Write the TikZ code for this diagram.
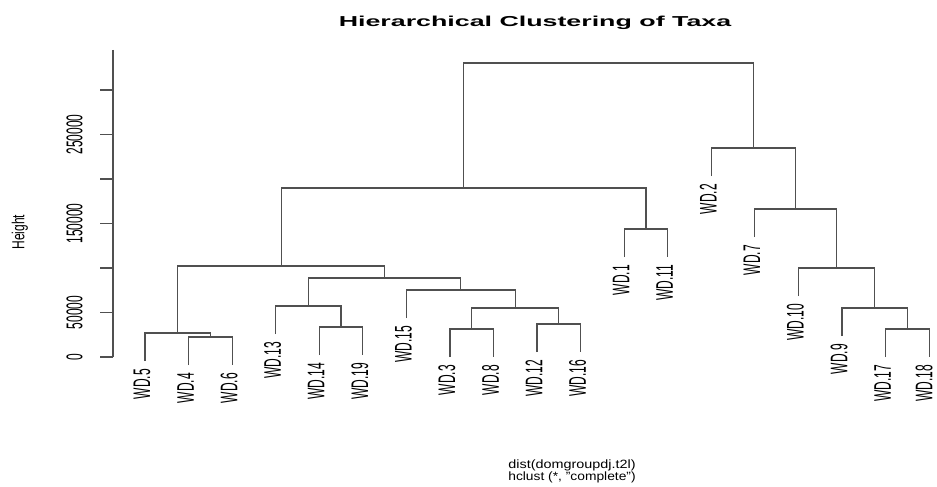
\documentclass[tikz,border=0pt]{standalone}
\usepackage{fontspec}
\setmainfont{Liberation Sans}
\usetikzlibrary{positioning}
\definecolor{dgray}{RGB}{80,80,80}
\newcommand{\leafl}[1]{\scalebox{2.0}[1]{\rotatebox{90}{#1}}}
\newcommand{\axl}[1]{\scalebox{1.9}[1]{\rotatebox{90}{#1}}}
\begin{document}
\begin{tikzpicture}[x=1pt,y=-1pt,
  den/.style={draw=dgray, line width=1.2pt},
  leaflab/.style={anchor=north, inner sep=0pt, font=\fontsize{12}{14}\selectfont, text=black},
  axlab/.style={anchor=center, inner sep=0pt, font=\fontsize{12}{14}\selectfont, text=black},
  txt/.style={inner sep=0pt, text=black}]
\useasboundingbox[fill=white] (0,0) rectangle (937,487);

% title and captions
\node[txt, anchor=base, font=\bfseries\fontsize{14.4}{16}\selectfont] (title) at (535,27) {\scalebox{1.86}[1]{Hierarchical Clustering of Taxa}};
\node[txt, anchor=base, font=\fontsize{12}{14}\selectfont] (cap1) at (572,468) {\scalebox{1.2}[1]{dist(domgroupdj.t2l)}};
\node[txt, anchor=base, font=\fontsize{12}{14}\selectfont] (cap2) at (572,480) {\scalebox{1.15}[1]{hclust (*, "complete")}};
\node[txt, anchor=center, font=\fontsize{12}{14}\selectfont] (ylab) at (20,232) {\scalebox{1.45}[1]{\rotatebox{90}{Height}}};

% axis
\coordinate (axtop) at (113,50);
\coordinate (a0) at (113,357);   \coordinate (b0) at (100,357);
\coordinate (a1) at (113,312.5); \coordinate (b1) at (100,312.5);
\coordinate (a2) at (113,268);   \coordinate (b2) at (100,268);
\coordinate (a3) at (113,223.5); \coordinate (b3) at (100,223.5);
\coordinate (a4) at (113,179);   \coordinate (b4) at (100,179);
\coordinate (a5) at (113,134.5); \coordinate (b5) at (100,134.5);
\coordinate (a6) at (113,90);    \coordinate (b6) at (100,90);
\draw[den] (axtop) -- (a0);
\foreach \i in {0,...,6} { \draw[den] (a\i) -- (b\i); }
\node[axlab] (v0) at (74.5,357) {\axl{0}};
\node[axlab] (v1) at (74.5,312.5) {\axl{50000}};
\node[axlab] (v3) at (74.5,223.5) {\axl{150000}};
\node[axlab] (v5) at (74.5,134.5) {\axl{250000}};

% leaves (bottom ends)
\coordinate (l5)  at (145.0,361);
\coordinate (l4)  at (188.6,365);
\coordinate (l6)  at (232.1,365);
\coordinate (l13) at (275.7,334);
\coordinate (l14) at (319.2,355);
\coordinate (l19) at (362.8,355);
\coordinate (l15) at (406.4,318);
\coordinate (l3)  at (449.9,357);
\coordinate (l8)  at (493.5,357);
\coordinate (l12) at (537.0,352);
\coordinate (l16) at (580.6,352);
\coordinate (l1)  at (624.2,257);
\coordinate (l11) at (667.7,257);
\coordinate (l2)  at (711.3,176);
\coordinate (l7)  at (754.8,237);
\coordinate (l10) at (798.4,296);
\coordinate (l9)  at (842.0,336);
\coordinate (l17) at (885.5,357);
\coordinate (l18) at (929.1,357);

% merge points
\coordinate (n46)   at (210.35,337);
\coordinate (n5)    at (177.7,333);
\coordinate (n1419) at (341.0,327);
\coordinate (n13)   at (308.35,306);
\coordinate (n38)   at (471.7,329);
\coordinate (n1216) at (558.8,324);
\coordinate (n316)  at (515.25,308);
\coordinate (n15)   at (460.8,290);
\coordinate (nB)    at (384.6,278);
\coordinate (nA)    at (281.15,266);
\coordinate (n111)  at (645.95,229);
\coordinate (nL)    at (463.55,188);
\coordinate (n1718) at (907.3,329);
\coordinate (n9)    at (874.65,308);
\coordinate (n10)   at (836.5,268);
\coordinate (n7)    at (795.65,209);
\coordinate (n2)    at (753.5,148);
\coordinate (root)  at (608.5,63);

% branches
\draw[den] (l4) |- (n46) -| (l6);
\draw[den] (l5) |- (n5) -| (n46);
\draw[den] (l14) |- (n1419) -| (l19);
\draw[den] (l13) |- (n13) -| (n1419);
\draw[den] (l3) |- (n38) -| (l8);
\draw[den] (l12) |- (n1216) -| (l16);
\draw[den] (n38) |- (n316) -| (n1216);
\draw[den] (l15) |- (n15) -| (n316);
\draw[den] (n13) |- (nB) -| (n15);
\draw[den] (n5) |- (nA) -| (nB);
\draw[den] (l1) |- (n111) -| (l11);
\draw[den] (nA) |- (nL) -| (n111);
\draw[den] (l17) |- (n1718) -| (l18);
\draw[den] (l9) |- (n9) -| (n1718);
\draw[den] (l10) |- (n10) -| (n9);
\draw[den] (l7) |- (n7) -| (n10);
\draw[den] (l2) |- (n2) -| (n7);
\draw[den] (nL) |- (root) -| (n2);

% leaf labels
\foreach \n in {5,4,6,13,14,19,15,3,8,12,16,1,11,2,7,10,9,17} {
  \node[leaflab, below=8pt of l\n, xshift=-3pt] (t\n) {\leafl{WD.\n}};
}
\node[leaflab, below=8pt of l18, xshift=-5pt] (t18) {\leafl{WD.18}};
\end{tikzpicture}
\end{document}
